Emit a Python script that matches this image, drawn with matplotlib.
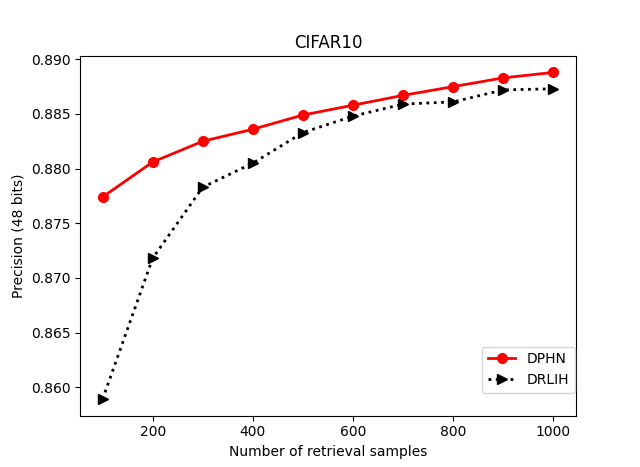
import numpy as np
import matplotlib
matplotlib.use('Agg')
import matplotlib.pyplot as plt

# число выборок
samples = [100, 200, 300, 400, 500, 600, 700, 800, 900, 1000]
dphn = [0.8774, 0.8806, 0.8825, 0.8836, 0.8849, 0.8858, 0.8867, 0.8875, 0.8883, 0.8888]
drlih = [0.8589, 0.8718, 0.8783, 0.8805, 0.8833, 0.8848, 0.8859, 0.8861, 0.8872, 0.8873]

plt.figure(figsize=(6.4, 4.67))
plt.plot(samples, dphn, 'r-o', linewidth=2, markersize=7, label='DPHN')
plt.plot(samples, drlih, 'k:>', linewidth=2, markersize=7, label='DRLIH')
plt.xlabel('Number of retrieval samples')
plt.ylabel('Precision (48 bits)')
plt.title('CIFAR10')
plt.legend(loc='lower right', bbox_to_anchor=(1.0, 0.06), borderaxespad=0.1)
plt.savefig('out.png', dpi=100)
